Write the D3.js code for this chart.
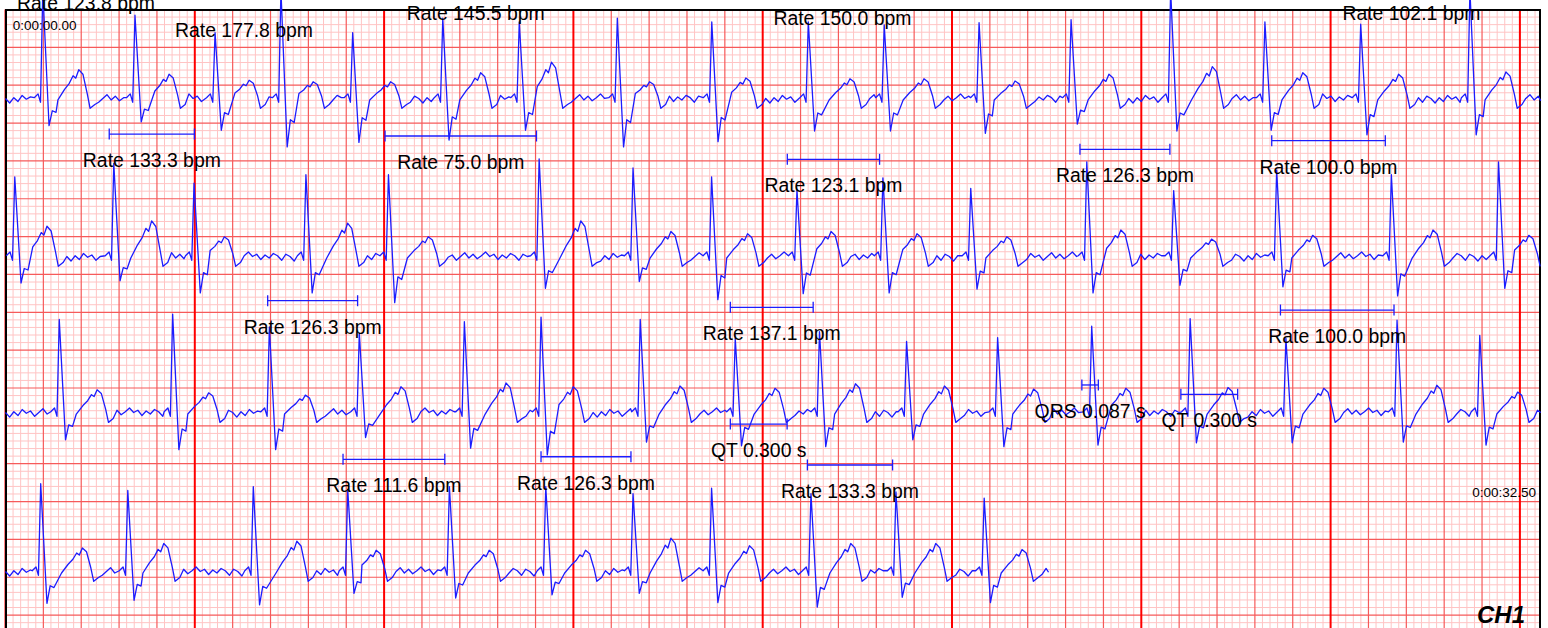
<!DOCTYPE html>
<html>
<head>
<meta charset="utf-8">
<title>ECG CH1</title>
<script src="https://d3js.org/d3.v7.min.js"></script>
<style>
  body { margin: 0; background: #fff; }
  svg text { font-family: "Liberation Sans", Arial, sans-serif; fill: #000; }
</style>
</head>
<body>
<svg id="ecg" width="1548" height="628"></svg>
<script>
// one entry per beat: [R time (s), R (mV), S (mV), T (mV), R->T peak delay (s)]
const row1 = [
  [0.197, 1.45, -0.34, 0.40, 0.19], [0.684, 1.12, -0.29, 0.34, 0.18], [1.107, 0.89, -0.40, 0.26, 0.18],
  [1.455, 1.45, -0.62, 0.24, 0.17], [1.834, 0.89, -0.56, 0.24, 0.20], [2.310, 1.08, -0.53, 0.36, 0.20],
  [2.714, 1.03, -0.40, 0.50, 0.17], [3.232, 1.08, -0.62, 0.24, 0.17], [3.731, 1.03, -0.55, 0.29, 0.18],
  [4.241, 1.03, -0.41, 0.28, 0.22], [4.642, 0.99, -0.41, 0.28, 0.21], [5.143, 1.02, -0.44, 0.25, 0.19],
  [5.629, 1.06, -0.32, 0.34, 0.20], [6.155, 1.45, -0.41, 0.44, 0.22], [6.653, 1.03, -0.40, 0.36, 0.20],
  [7.159, 1.00, -0.46, 0.34, 0.20], [7.736, 1.45, -0.46, 0.37, 0.19]
];
const row2 = [
  [0.049, 1.07, -0.33, 0.42, 0.17], [0.572, 1.25, -0.30, 0.49, 0.20], [0.996, 0.99, -0.46, 0.28, 0.16],
  [1.587, 1.10, -0.46, 0.46, 0.22], [2.023, 1.10, -0.59, 0.28, 0.21], [2.819, 1.31, -0.40, 0.49, 0.22],
  [3.315, 1.19, -0.31, 0.35, 0.20], [3.730, 1.07, -0.55, 0.32, 0.19], [4.181, 0.90, -0.47, 0.35, 0.18],
  [4.635, 1.06, -0.46, 0.32, 0.18], [5.099, 0.92, -0.41, 0.28, 0.19], [5.712, 1.27, -0.46, 0.37, 0.18],
  [6.171, 0.89, -0.36, 0.25, 0.20], [6.715, 1.16, -0.38, 0.30, 0.19], [7.321, 1.10, -0.50, 0.37, 0.22],
  [7.887, 1.27, -0.40, 0.30, 0.16]
];
const row3 = [
  [0.284, 1.25, -0.34, 0.32, 0.20], [0.883, 1.32, -0.47, 0.28, 0.19], [1.394, 1.15, -0.47, 0.25, 0.19],
  [1.869, 1.07, -0.31, 0.36, 0.22], [2.424, 1.22, -0.45, 0.41, 0.22], [2.829, 1.28, -0.54, 0.36, 0.17],
  [3.353, 1.25, -0.37, 0.37, 0.21], [3.855, 1.00, -0.42, 0.34, 0.21], [4.300, 1.09, -0.43, 0.40, 0.19],
  [4.760, 0.96, -0.34, 0.37, 0.20], [5.241, 1.01, -0.43, 0.33, 0.19], [5.738, 1.16, -0.41, 0.34, 0.18],
  [6.258, 1.26, -0.38, 0.35, 0.20], [6.764, 1.00, -0.38, 0.34, 0.20], [7.351, 1.24, -0.37, 0.38, 0.21],
  [7.788, 1.04, -0.41, 0.29, 0.20]
];
const row4 = [
  [0.186, 1.18, -0.40, 0.33, 0.22], [0.646, 1.09, -0.36, 0.39, 0.19], [1.309, 1.14, -0.42, 0.42, 0.23],
  [1.808, 1.10, -0.27, 0.30, 0.15], [2.345, 1.14, -0.33, 0.30, 0.21], [2.854, 1.14, -0.29, 0.30, 0.21],
  [3.315, 1.05, -0.27, 0.46, 0.20], [3.730, 1.12, -0.39, 0.36, 0.20], [4.255, 1.05, -0.45, 0.39, 0.21],
  [4.704, 1.07, -0.32, 0.39, 0.21], [5.170, 0.99, -0.39, 0.31, 0.20]
];
const rows = [row1, row2, row3, row4];
const rowBase = [1.195, 3.283, 5.344, 7.444];   // isoelectric line, mV down from top of paper
const rowEnd = [8.11, 8.11, 8.11, 5.51];         // seconds

// beat shape pieces read off one typical complex
const preR = [[-0.045, 0.03], [-0.025, 0.08], [-0.012, -0.03]];          // mV
const postS = [[0.05, 0.42], [0.07, 0.48]];                               // fraction of S
const tShape = [[-0.11, 0.0], [-0.075, 0.35], [-0.05, 0.55], [-0.03, 0.8],
                [-0.016, 0.72], [0, 1], [0.022, 0.85], [0.045, 0.2]];     // fraction of T
const postT = [[0.06, -0.11], [0.085, -0.06]];                            // mV
const ripple = [0.02, -0.04, 0.03, -0.02, 0.06, 0.01, 0.04, -0.03, 0.02, 0.07, 0.0, 0.05,
                -0.01, 0.03, 0.08, 0.02, 0.05, -0.02, 0.04, 0.0, 0.06, 0.03, -0.03, 0.05];
const rippleStep = 0.022;

// measurement calipers: [kind, value, start (s), y (mV from top)]
const bars = [
  ["Rate", 133.3, 0.548, 1.645], ["Rate", 75.0, 2.005, 1.671], ["Rate", 123.1, 4.130, 1.979],
  ["Rate", 126.3, 5.676, 1.847], ["Rate", 100.0, 6.689, 1.733],
  ["Rate", 126.3, 1.385, 3.847], ["Rate", 137.1, 3.829, 3.934], ["Rate", 100.0, 6.735, 3.970],
  ["Rate", 111.6, 1.783, 5.942], ["Rate", 126.3, 2.829, 5.908], ["Rate", 133.3, 4.236, 6.017],
  ["QT", 0.300, 3.829, 5.476], ["QRS", 0.087, 5.686, 4.960], ["QT", 0.300, 6.209, 5.083]
];
// labels whose calipers sit off the page: [text, centre (s), baseline (mV from top)]
const topLabels = [
  ["Rate 123.8 bpm", 0.425, 0.007], ["Rate 177.8 bpm", 1.260, 0.357], ["Rate 145.5 bpm", 2.484, 0.139],
  ["Rate 150.0 bpm", 4.421, 0.205], ["Rate 102.1 bpm", 7.427, 0.139]
];

const svg = d3.select("#ecg");
const x = d3.scaleLinear().domain([0, 8.11]).range([5.5, 5.5 + 8.11 * 189.3]);
const y = d3.scaleLinear().domain([0, 8.17]).range([9.5, 9.5 + 8.17 * 75.7]);

// paper grid
const vTicks = d3.range(0, 203).map(k => ({ k, t: k * 0.04 }));
const hTicks = d3.range(0, 82).map(k => ({ k, v: k * 0.1 }));
const grid = svg.append("g");
function drawGrid(filterV, filterH, color, width) {
  grid.append("g").selectAll("line").data(vTicks.filter(filterV)).join("line")
    .attr("x1", d => x(d.t)).attr("x2", d => x(d.t))
    .attr("y1", y(0)).attr("y2", 628)
    .attr("stroke", color).attr("stroke-width", width);
  grid.append("g").selectAll("line").data(hTicks.filter(filterH)).join("line")
    .attr("x1", 6).attr("x2", 1540)
    .attr("y1", d => y(d.v)).attr("y2", d => y(d.v))
    .attr("stroke", color).attr("stroke-width", width);
}
drawGrid(d => d.k % 5 !== 0, d => d.k % 5 !== 0, "#ffc4c4", 1);
drawGrid(d => d.k % 5 === 0 && d.k % 25 !== 0, d => d.k % 5 === 0, "#f65a5a", 1.2);
drawGrid(d => d.k % 25 === 0, () => false, "#ff0000", 2);

// frame
svg.append("line").attr("x1", 6).attr("x2", 6).attr("y1", 9).attr("y2", 628).attr("stroke", "#000").attr("stroke-width", 2);
svg.append("line").attr("x1", 5).attr("x2", 1541).attr("y1", 10).attr("y2", 10).attr("stroke", "#000").attr("stroke-width", 2);
svg.append("line").attr("x1", 1540).attr("x2", 1540).attr("y1", 9).attr("y2", 628).attr("stroke", "#000").attr("stroke-width", 2);

// trace
function buildRow(beats, tEnd) {
  const pts = [];
  let cursor = 0, ri = 0;
  const push = (t, v) => {
    if (t < 0 || t > tEnd) return;
    if (pts.length && t <= pts[pts.length - 1][0] + 0.004) return;
    pts.push([t, v]);
  };
  beats.forEach(([t, r, s, tw, td]) => {
    for (let u = cursor; u < t - 0.05; u += rippleStep) push(u, ripple[ri++ % ripple.length]);
    preR.forEach(([dt, v]) => push(t + dt, v));
    push(t, r);
    push(t + 0.033, s);
    postS.forEach(([dt, f]) => push(t + dt, s * f));
    tShape.forEach(([dt, f]) => push(t + td + dt, tw * f));
    postT.forEach(([dt, v]) => push(t + td + dt, v));
    cursor = t + td + 0.105;
  });
  for (let u = cursor; u < tEnd; u += rippleStep) push(u, ripple[ri++ % ripple.length]);
  push(tEnd, ripple[ri % ripple.length]);
  return pts;
}

rows.forEach((beats, i) => {
  const base = rowBase[i];
  const line = d3.line().x(d => x(d[0])).y(d => y(base - d[1]));
  svg.append("path")
    .datum(buildRow(beats, rowEnd[i]))
    .attr("d", line)
    .attr("fill", "none")
    .attr("stroke", "#1c1cff")
    .attr("stroke-width", 1.3)
    .attr("stroke-linejoin", "round");
});

// calipers
const cal = svg.append("g");
bars.forEach(([kind, value, t0, yp]) => {
  const dur = kind === "Rate" ? 60 / value : value;
  const label = kind === "Rate" ? `Rate ${value.toFixed(1)} bpm` : `${kind} ${value.toFixed(3)} s`;
  const x0 = x(t0), x1 = x(t0 + dur), yy = y(yp);
  cal.append("line").attr("x1", x0).attr("x2", x1).attr("y1", yy).attr("y2", yy)
    .attr("stroke", "#1c1cff").attr("stroke-width", 1.3);
  [x0, x1].forEach(xx => cal.append("line").attr("x1", xx).attr("x2", xx)
    .attr("y1", yy - 5.5).attr("y2", yy + 5.5).attr("stroke", "#1c1cff").attr("stroke-width", 1.3));
  cal.append("text").attr("x", (x0 + x1) / 2).attr("y", y(yp + 0.436))
    .attr("text-anchor", "middle").attr("font-size", 19.4).text(label);
});
topLabels.forEach(([txt, tc, yp]) => {
  svg.append("text").attr("x", x(tc)).attr("y", y(yp))
    .attr("text-anchor", "middle").attr("font-size", 19.4).text(txt);
});

// time stamps and channel
svg.append("text").attr("x", x(0.038)).attr("y", y(0.271)).attr("font-size", 13.5).text("0:00:00.00");
svg.append("text").attr("x", x(8.085)).attr("y", y(6.44)).attr("text-anchor", "end").attr("font-size", 13.5).text("0:00:32.50");
svg.append("text").attr("x", x(8.027)).attr("y", y(8.10)).attr("text-anchor", "end")
  .attr("font-size", 24).attr("font-weight", "bold").attr("font-style", "italic").text("CH1");
</script>
</body>
</html>
